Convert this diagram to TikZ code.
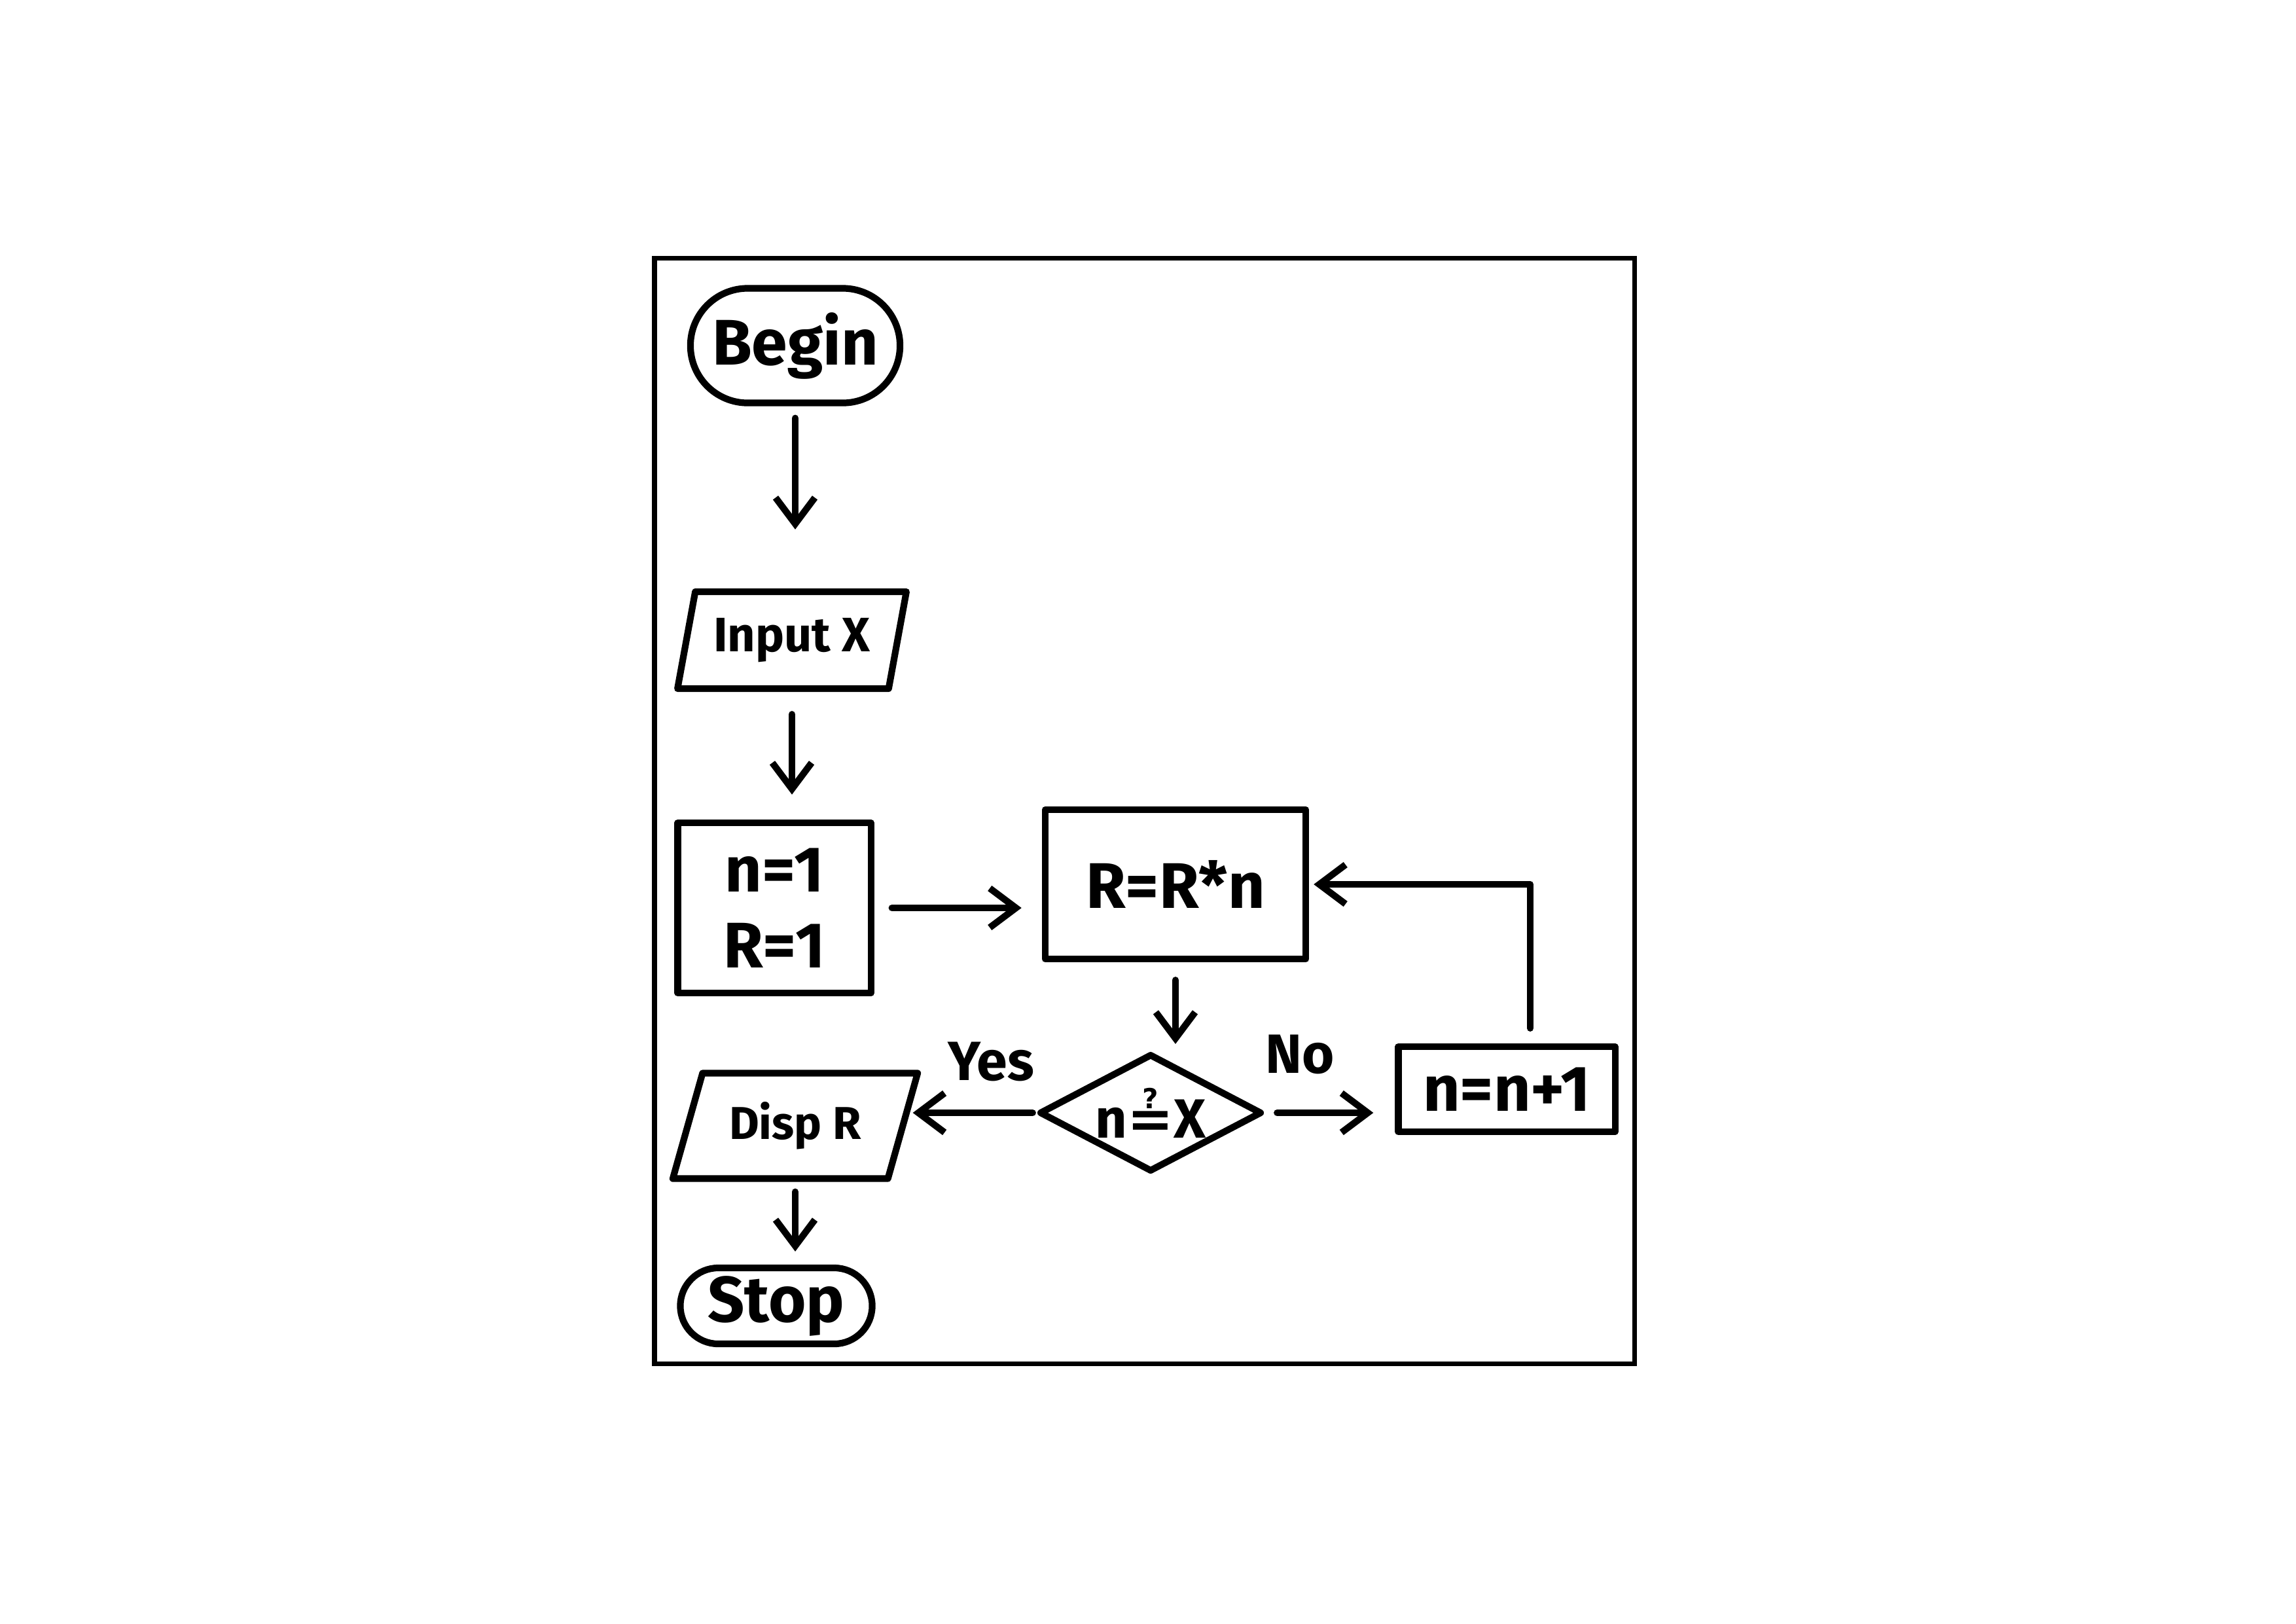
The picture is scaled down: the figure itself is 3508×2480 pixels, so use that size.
\documentclass[tikz,border=0pt]{standalone}
\usepackage{fontspec}
\setmainfont{Fira Sans}
\newfontfamily\symfont{DejaVu Sans}
\usetikzlibrary{arrows.meta,shapes.geometric,shapes.misc}
\begin{document}
\begin{tikzpicture}[x=0.01cm,y=-0.01cm,
  line width=2.9pt, line cap=round, line join=round,
  txt/.style={font=\fontsize{28}{33}\selectfont\bfseries},
  box/.style={draw, rectangle, inner sep=0pt, txt},
  term/.style={draw, rounded rectangle, inner sep=0pt, txt},
  io/.style={draw, trapezium, trapezium stretches=true, trapezium left angle=72, trapezium right angle=108, inner sep=0pt, txt},
  dec/.style={draw, diamond, aspect=1.9, inner sep=0pt, font=\fontsize{24}{28}\selectfont\bfseries},
  arr/.style={-{Straight Barb[length=0.4cm,width=0.6cm]}},
  lbl/.style={font=\fontsize{24}{28}\selectfont\bfseries}]
\useasboundingbox (0,0) rectangle (3508,2480);
\fill[white] (0,0) rectangle (3508,2480);
\draw[line width=2pt, line cap=butt, line join=miter] (1000,394) rectangle (2497,2083);

\node[term, minimum width=3.2cm, minimum height=1.75cm] (begin) at (1215,528) {Begin};
\node[io, minimum width=3.5cm, minimum height=1.48cm, font=\fontsize{21}{25}\selectfont\bfseries] (input) at (1210,978) {Input X};
\node[box, minimum width=2.95cm, minimum height=2.6cm, align=center] (init) at (1183,1387) {n=1\\R=1};
\node[box, minimum width=3.98cm, minimum height=2.28cm] (calc) at (1796,1351) {R=R*n};
\node[dec, minimum width=3.4cm, minimum height=1.8cm] (test) at (1758,1700) {n{\symfont\bfseries ≟}X};
\node[box, minimum width=3.31cm, minimum height=1.3cm] (inc) at (2302,1664) {n=n+1};
\node[io, trapezium left angle=66, trapezium right angle=114, minimum width=3.74cm, minimum height=1.61cm, font=\fontsize{20}{24}\selectfont\bfseries] (disp) at (1215,1720) {Disp R};
\node[term, minimum width=2.93cm, minimum height=1.16cm] (stop) at (1186,1995) {Stop};

\node[lbl] (yes) at (1514,1622) {Yes};
\node[lbl] (no) at (1986,1611) {No};

\coordinate (loopx) at (2338,0);

\draw[arr, shorten <=0.18cm, shorten >=0.9cm] (begin.south) -- (begin.south |- input.north);
\draw[arr, shorten <=0.34cm, shorten >=0.38cm] (input.south) -- (input.south |- init.north);
\draw[arr, shorten <=0.27cm, shorten >=0.31cm] (init.east) -- (init.east -| calc.west);
\draw[arr, shorten <=0.27cm, shorten >=0.1cm] (calc.south) -- (calc.south |- test.north);
\draw[arr, shorten <=0.18cm, shorten >=0.33cm] (test.east) -- (test.east -| inc.west);
\draw[arr, shorten <=0.05cm, shorten >=0.1cm] (test.west) -- (test.west -| disp.east);
\draw[arr, shorten <=0.15cm, shorten >=0.2cm] (disp.south) -- (disp.south |- stop.north);
\draw[arr, shorten <=0.23cm, shorten >=0.07cm] (inc.north -| loopx) |- (calc.east);
\end{tikzpicture}
\end{document}
